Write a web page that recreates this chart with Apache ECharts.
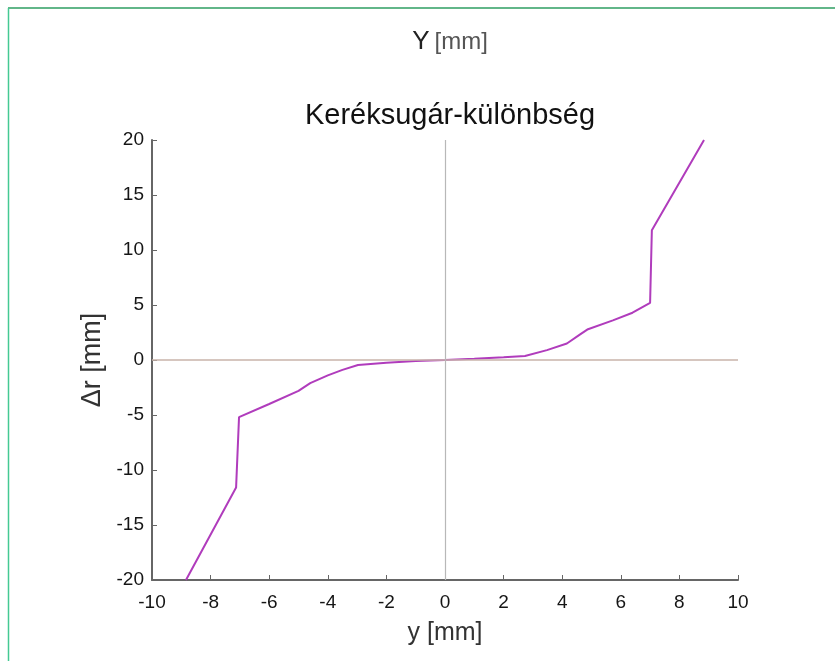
<!DOCTYPE html>
<html>
<head>
<meta charset="utf-8">
<script src="https://cdn.jsdelivr.net/npm/echarts@6/dist/echarts.min.js"></script>
<style>
html,body{margin:0;padding:0;background:#fff;}
#chart{width:835px;height:661px;}
</style>
</head>
<body>
<div id="chart"></div>
<script>
var xValues = [-8.84, -7.13, -7.03, -6.0, -5.0, -4.6, -4.0, -3.5, -2.97, -2.0, -1.0, 0, 1.0, 2.0, 2.73, 3.48, 4.16, 4.6, 4.88, 5.73, 6.4, 7.0, 7.06, 8.84];
var yValues = [-20, -11.6, -5.2, -4.0, -2.8, -2.1, -1.4, -0.9, -0.45, -0.25, -0.1, 0, 0.12, 0.25, 0.36, 0.9, 1.5, 2.3, 2.8, 3.6, 4.3, 5.2, 11.8, 20];
var xTicks = [-10, -8, -6, -4, -2, 0, 2, 4, 6, 8, 10];
var yTicks = [-20, -15, -10, -5, 0, 5, 10, 15, 20];

var pts = xValues.map(function(x, i){ return [x, yValues[i]]; });

var chart = echarts.init(document.getElementById('chart'));
var font = 'Liberation Sans, Arial, sans-serif';
chart.setOption({
  backgroundColor: '#ffffff',
  animation: false,
  title: [
    {
      text: '{a|Y} {b|[mm]}',
      left: 445, top: 24, textAlign: 'center',
      textStyle: {
        fontWeight: 'normal',
        rich: {
          a: {fontFamily: font, fontSize: 26, fontWeight: 'normal', color: '#222'},
          b: {fontFamily: font, fontSize: 24, fontWeight: 'normal', color: '#555'}
        }
      }
    },
    {
      text: 'Keréksugár-különbség',
      left: 445, top: 96, textAlign: 'center',
      textStyle: {fontFamily: font, fontSize: 29, fontWeight: 'normal', color: '#111'}
    }
  ],
  graphic: [
    {type: 'line', shape: {x1: 8, y1: 8, x2: 835, y2: 8}, style: {stroke: '#2e9e62', lineWidth: 1.5}},
    {type: 'line', shape: {x1: 8.5, y1: 8, x2: 8.5, y2: 661}, style: {stroke: '#44c993', lineWidth: 1.5}}
  ],
  grid: {left: 152, right: 97, top: 140, bottom: 81, containLabel: false},
  xAxis: {
    type: 'value', min: -10, max: 10, interval: 2,
    name: 'y [mm]', nameLocation: 'middle', nameGap: 41,
    nameTextStyle: {fontFamily: font, fontSize: 25, color: '#333'},
    axisLine: {show: true, onZero: false, lineStyle: {color: '#666', width: 2}},
    axisTick: {show: true, inside: true, length: 5, lineStyle: {color: '#666'}},
    axisLabel: {fontFamily: font, fontSize: 19, color: '#151515', margin: 13,
      formatter: function(v){ return xTicks.indexOf(v) >= 0 ? String(v) : ''; }},
    splitLine: {show: false}
  },
  yAxis: {
    type: 'value', min: -20, max: 20, interval: 5,
    name: 'Δr [mm]', nameLocation: 'middle', nameGap: 45, nameRotate: 90,
    nameTextStyle: {fontFamily: font, fontSize: 27, color: '#333'},
    axisLine: {show: true, onZero: false, lineStyle: {color: '#666', width: 2}},
    axisTick: {show: true, inside: true, length: 5, lineStyle: {color: '#666'}},
    axisLabel: {fontFamily: font, fontSize: 19, color: '#151515', margin: 8,
      formatter: function(v){ return yTicks.indexOf(v) >= 0 ? String(v) : ''; }},
    splitLine: {show: false}
  },
  series: [
    {
      type: 'line',
      data: pts,
      showSymbol: false,
      symbol: 'none',
      lineStyle: {color: '#b03cbc', width: 2},
      z: 3,
      markLine: {
        silent: true,
        symbol: ['none', 'none'],
        label: {show: false},
        data: [
          {yAxis: 0, lineStyle: {color: '#c9b3aa', width: 1.5, type: 'solid'}},
          {xAxis: 0, lineStyle: {color: '#b8b8b8', width: 1.2, type: 'solid'}}
        ]
      }
    }
  ]
});
</script>
</body>
</html>
